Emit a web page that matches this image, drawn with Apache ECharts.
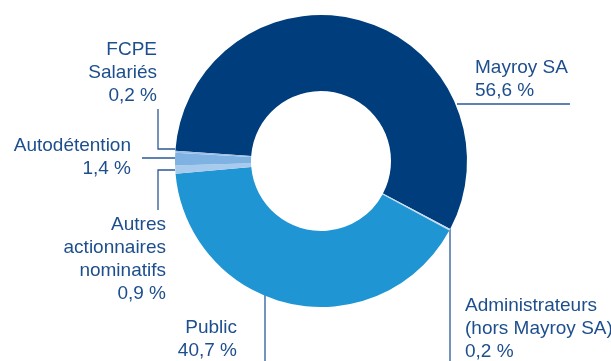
<!DOCTYPE html>
<html>
<head>
<meta charset="utf-8">
<script src="https://cdn.jsdelivr.net/npm/echarts@6/dist/echarts.min.js"></script>
<style>
html,body{margin:0;padding:0;background:#fff;}
#chart{width:611px;height:361px;}
</style>
</head>
<body>
<div id="chart"></div>
<script>
// Data
var categories = ['Mayroy SA', 'Administrateurs (hors Mayroy SA)', 'Public', 'Autres actionnaires nominatifs', 'Autodétention', 'FCPE Salariés'];
var labelNames = ['Mayroy SA', 'Administrateurs\n(hors Mayroy SA)', 'Public', 'Autres\nactionnaires\nnominatifs', 'Autodétention', 'FCPE\nSalariés'];
var values = [56.6, 0.2, 40.7, 0.9, 1.4, 0.2];
var colors = ['#003d7c', '#c9def2', '#1f96d3', '#a8caed', '#7db2e2', '#9dbfe6'];

// Label placement (layout only)
var layoutByName = {
  'Mayroy SA': {x: 475, y: 56, align: 'left', line: [[457, 104], [570, 104]]},
  'Administrateurs (hors Mayroy SA)': {x: 465, y: 294, align: 'left', line: [[450, 229], [450, 361]]},
  'Public': {x: 237, y: 316, align: 'right', line: [[265, 295], [265, 361]]},
  'Autres actionnaires nominatifs': {x: 166, y: 213, align: 'right', line: [[175, 170], [158, 170], [158, 210]]},
  'Autodétention': {x: 131, y: 134, align: 'right', line: [[175, 158], [142, 158]]},
  'FCPE Salariés': {x: 157, y: 38, align: 'right', line: [[175, 149], [158, 149], [158, 109]]}
};

function fmt(v) { return v.toFixed(1).replace('.', ',') + ' %'; }

var data = categories.map(function (c, i) {
  return { name: c, value: values[i], itemStyle: { color: colors[i] } };
});

var chart = echarts.init(document.getElementById('chart'), null, {renderer: 'canvas'});
chart.setOption({
  animation: false,
  backgroundColor: '#ffffff',
  series: [{
    type: 'pie',
    center: [321, 161],
    radius: [70, 146],
    startAngle: 176,
    clockwise: true,
    avoidLabelOverlap: false,
    silent: true,
    itemStyle: { borderWidth: 0 },
    label: {
      show: true,
      position: 'outside',
      fontFamily: 'Liberation Sans, Arial, sans-serif',
      fontSize: 19,
      lineHeight: 23,
      color: '#1d4e8e',
      formatter: function (p) { return labelNames[p.dataIndex] + '\n' + fmt(p.value); }
    },
    labelLine: {
      show: true,
      lineStyle: { color: '#2a5a96', width: 1.3 }
    },
    labelLayout: function (params) {
      var name = categories[params.dataIndex];
      var l = layoutByName[name];
      return {
        x: l.x,
        y: l.y,
        align: l.align,
        verticalAlign: 'top',
        labelLinePoints: l.line
      };
    },
    data: data
  }]
});
</script>
</body>
</html>
